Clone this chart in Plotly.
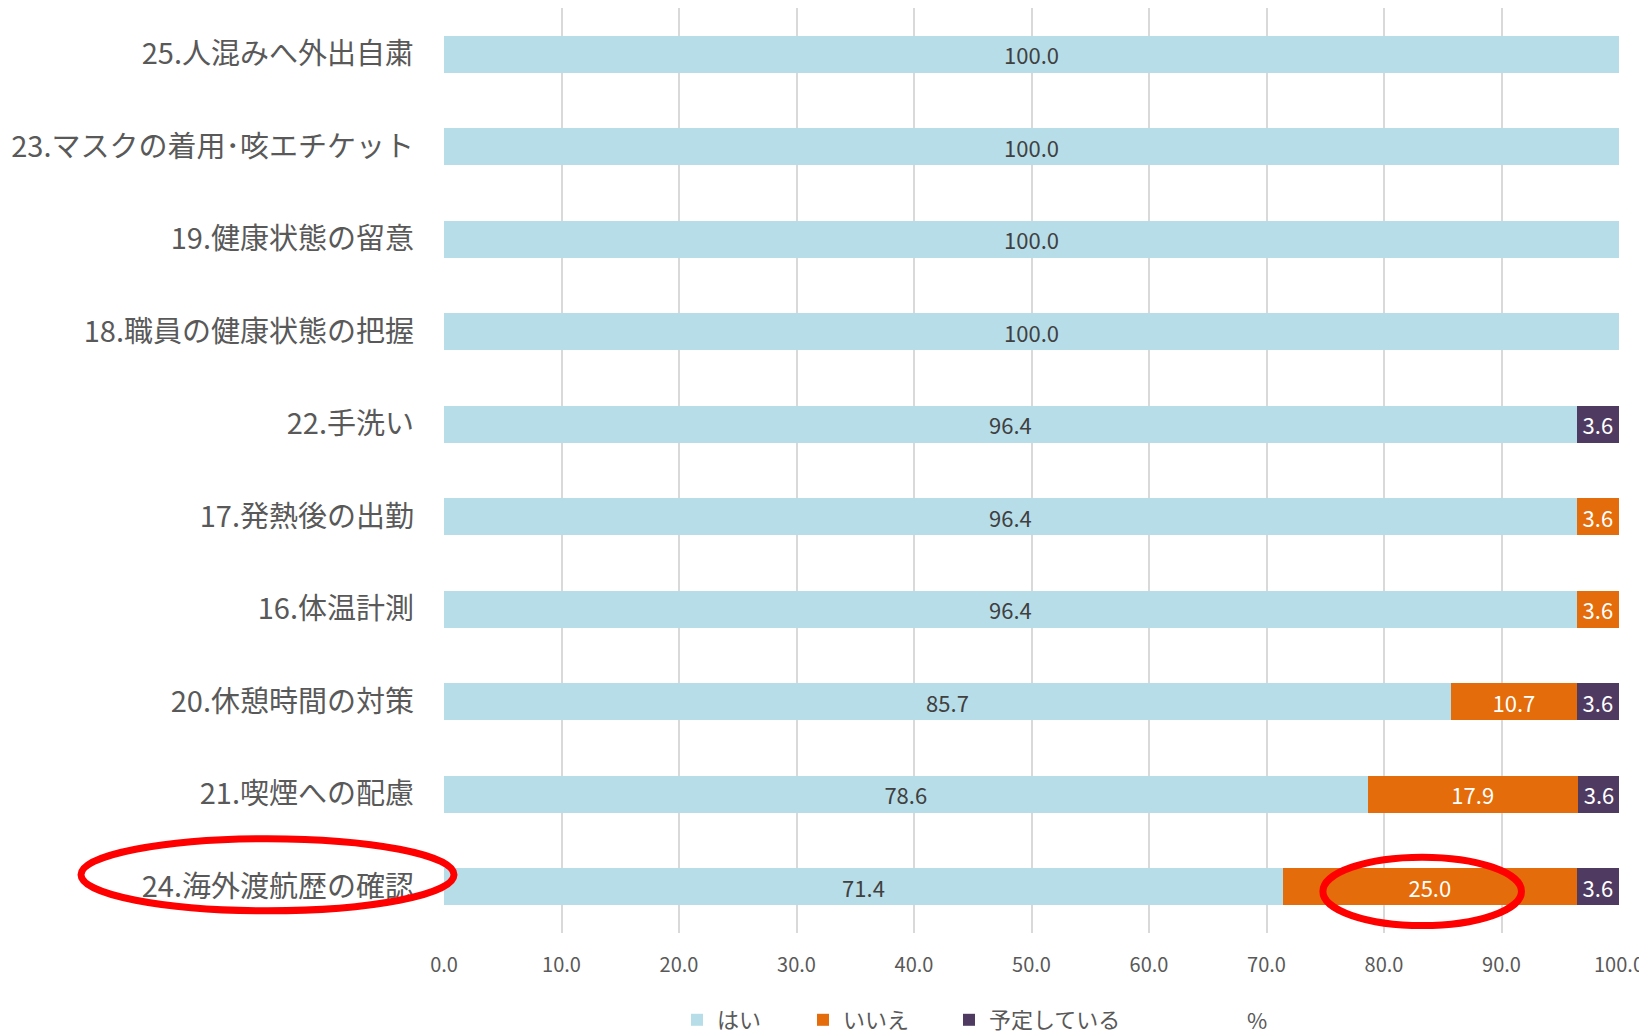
import plotly.graph_objects as go

categories = ["25.人混みへ外出自粛", "23.マスクの着用･咳エチケット", "19.健康状態の留意",
              "18.職員の健康状態の把握", "22.手洗い", "17.発熱後の出勤", "16.体温計測",
              "20.休憩時間の対策", "21.喫煙への配慮", "24.海外渡航歴の確認"]
hai = [100.0, 100.0, 100.0, 100.0, 96.4, 96.4, 96.4, 85.7, 78.6, 71.4]
iie = [0, 0, 0, 0, 0, 3.6, 3.6, 10.7, 17.9, 25.0]
yotei = [0, 0, 0, 0, 3.6, 0, 0, 3.6, 3.6, 3.6]
series_names = ["はい", "いいえ", "予定している"]
colors = ["#B7DDE8", "#E46C0A", "#4F3B62"]
label_colors = ["#404040", "#FFFFFF", "#FFFFFF"]
x_ticks = [0, 10, 20, 30, 40, 50, 60, 70, 80, 90, 100]

FONT = "Noto Sans CJK JP"
# page body has an 8px margin, so figure coords = screen coords - 8
W, H = 1639, 1026
L, R, T, B = 436, 1611, 0, 925   # plot area in figure pixels


def px_x(p):
    return (p - L) / (R - L)


def px_y(p):
    return (B - p) / (B - T)


legend_names = ["legend", "legend2", "legend3"]
legend_x = [669, 795, 941]

fig = go.Figure()
for name, vals, col, lc, lg in zip(series_names, [hai, iie, yotei], colors, label_colors, legend_names):
    fig.add_trace(go.Bar(
        y=categories, x=vals, name=name, orientation="h",
        marker=dict(color=col, line=dict(width=0)),
        text=[f"{v:.1f}" if v > 0 else "" for v in vals],
        textposition="inside", insidetextanchor="middle", textangle=0,
        textfont=dict(family=FONT, size=22, color=lc),
        constraintext="none", legend=lg,
    ))

# highlight ellipses
fig.add_shape(type="circle", xref="paper", yref="y", x0=px_x(73), x1=px_x(446),
              y0=9.26, y1=8.48, line=dict(color="#FF0000", width=7), layer="above")
fig.add_shape(type="circle", xref="x", yref="y", x0=74.8, x1=91.7,
              y0=9.42, y1=8.68, line=dict(color="#FF0000", width=7), layer="above")

fig.add_annotation(text="%", xref="paper", yref="paper", x=px_x(1249), y=px_y(1011),
                   showarrow=False, font=dict(family=FONT, size=22, color="#595959"),
                   xanchor="center", yanchor="middle")

legend_common = dict(orientation="h", xanchor="left", y=px_y(1012), yanchor="middle",
                     font=dict(family=FONT, size=22, color="#595959"),
                     itemwidth=30, bgcolor="rgba(0,0,0,0)")

fig.update_layout(
    width=W, height=H,
    margin=dict(l=L, r=W - R, t=T, b=H - B, autoexpand=False),
    barmode="stack", bargap=0.6,
    plot_bgcolor="white", paper_bgcolor="white",
    font=dict(family=FONT, color="#595959"),
    showlegend=True,
    legend=dict(x=px_x(legend_x[0]), **legend_common),
    legend2=dict(x=px_x(legend_x[1]), **legend_common),
    legend3=dict(x=px_x(legend_x[2]), **legend_common),
    xaxis=dict(range=[0, 100], tickvals=x_ticks, tickformat=".1f", showgrid=True,
               gridcolor="#D9D9D9", gridwidth=1.5, zeroline=False, showline=False,
               ticks="", tickfont=dict(family=FONT, size=20, color="#595959"),
               ticklabelstandoff=18, automargin=False),
    yaxis=dict(autorange="reversed", showgrid=False, zeroline=False, showline=False,
               ticks="", tickfont=dict(family=FONT, size=29, color="#595959"),
               ticklabelstandoff=29, categoryorder="array", categoryarray=categories,
               automargin=False),
)

fig.write_html("out.html")
